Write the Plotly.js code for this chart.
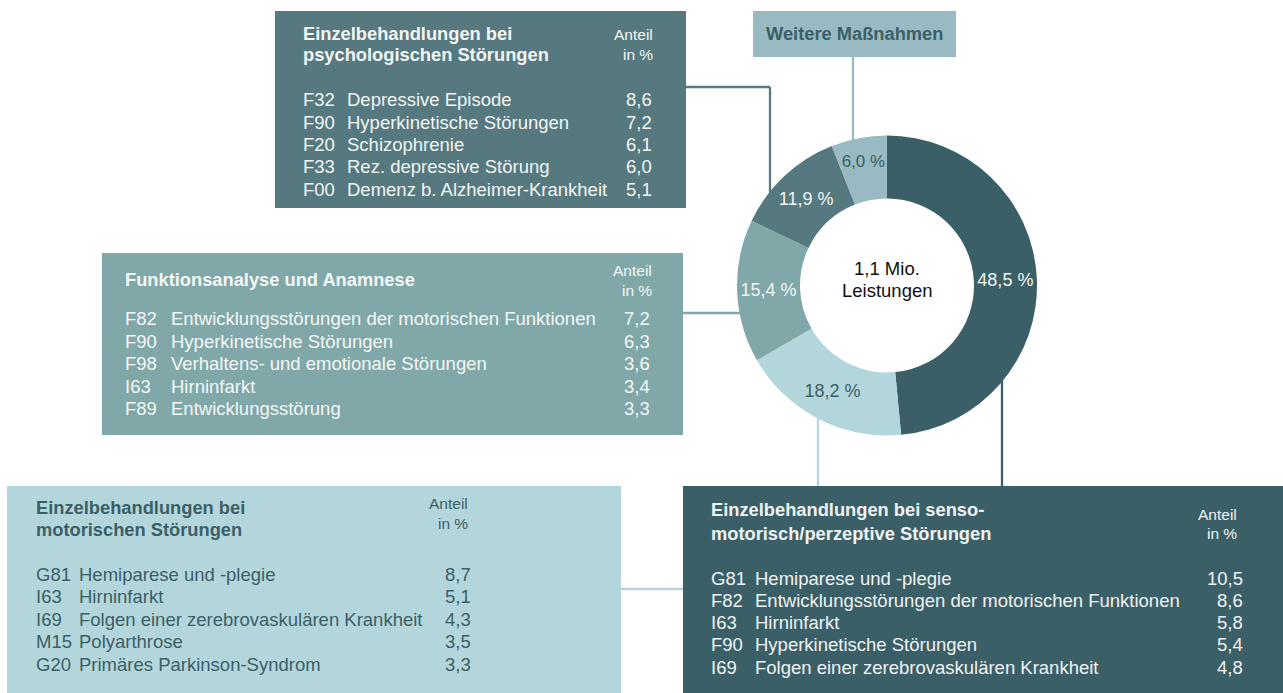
<!DOCTYPE html>
<html>
<head>
<meta charset="utf-8">
<script src="https://cdn.plot.ly/plotly-3.0.1.min.js"></script>
<style>html,body{margin:0;padding:0;background:#fff;}#chart{width:1283px;height:693px;}</style>
</head>
<body>
<div id="chart"></div>
<script>
// ---------- data ----------
const sliceLabels = [
  'Einzelbehandlungen bei senso-motorisch/perzeptive Störungen',
  'Einzelbehandlungen bei motorischen Störungen',
  'Funktionsanalyse und Anamnese',
  'Einzelbehandlungen bei psychologischen Störungen',
  'Weitere Maßnahmen'
];
const sliceValues = [48.5, 18.2, 15.4, 11.9, 6.0];
const centerText = ['1,1 Mio.', 'Leistungen'];

const psychTitle = ['Einzelbehandlungen bei', 'psychologischen Störungen'];
const psychCodes = ['F32', 'F90', 'F20', 'F33', 'F00'];
const psychDiagnoses = ['Depressive Episode', 'Hyperkinetische Störungen', 'Schizophrenie', 'Rez. depressive Störung', 'Demenz b. Alzheimer-Krankheit'];
const psychShares = [8.6, 7.2, 6.1, 6.0, 5.1];

const funkTitle = ['Funktionsanalyse und Anamnese'];
const funkCodes = ['F82', 'F90', 'F98', 'I63', 'F89'];
const funkDiagnoses = ['Entwicklungsstörungen der motorischen Funktionen', 'Hyperkinetische Störungen', 'Verhaltens- und emotionale Störungen', 'Hirninfarkt', 'Entwicklungsstörung'];
const funkShares = [7.2, 6.3, 3.6, 3.4, 3.3];

const motorTitle = ['Einzelbehandlungen bei', 'motorischen Störungen'];
const motorCodes = ['G81', 'I63', 'I69', 'M15', 'G20'];
const motorDiagnoses = ['Hemiparese und -plegie', 'Hirninfarkt', 'Folgen einer zerebrovaskulären Krankheit', 'Polyarthrose', 'Primäres Parkinson-Syndrom'];
const motorShares = [8.7, 5.1, 4.3, 3.5, 3.3];

const sensoTitle = ['Einzelbehandlungen bei senso-', 'motorisch/perzeptive Störungen'];
const sensoCodes = ['G81', 'F82', 'I63', 'F90', 'I69'];
const sensoDiagnoses = ['Hemiparese und -plegie', 'Entwicklungsstörungen der motorischen Funktionen', 'Hirninfarkt', 'Hyperkinetische Störungen', 'Folgen einer zerebrovaskulären Krankheit'];
const sensoShares = [10.5, 8.6, 5.8, 5.4, 4.8];

const weitereTitle = 'Weitere Maßnahmen';
const shareHeader = ['Anteil', 'in %'];

// ---------- styling / layout ----------
const W = 1283, H = 693;
const FONT = 'Liberation Sans, Arial, Helvetica, sans-serif';
const px = x => x / W;
const py = y => 1 - y / H;
const fmt = v => v.toFixed(1).replace('.', ',');

const C_DARK = '#3b5f66', C_MID = '#56797f', C_FUNK = '#80a8a9', C_LIGHT = '#b3d6dc', C_WEIT = '#99bac3';
const sliceColors = [C_DARK, C_LIGHT, C_FUNK, C_MID, C_WEIT];
const sliceTextColors = ['#f2f5f5', '#3b5f66', '#f2f5f5', '#f2f5f5', '#3b5f66'];

const shapes = [];
const annotations = [];

function line(x0, y0, x1, y1, color) {
  shapes.push({type: 'line', xref: 'paper', yref: 'paper', layer: 'below',
    x0: px(x0), y0: py(y0), x1: px(x1), y1: py(y1), line: {color: color, width: 2.3}});
}
function rect(x0, y0, x1, y1, color) {
  shapes.push({type: 'rect', xref: 'paper', yref: 'paper', layer: 'below',
    x0: px(x0), y0: py(y0), x1: px(x1), y1: py(y1), fillcolor: color, line: {width: 0}});
}
function text(t, x, y, anchor, size, color, bold) {
  annotations.push({xref: 'paper', yref: 'paper', x: px(x), y: py(y), xanchor: anchor, yanchor: 'middle',
    text: bold ? '<b>' + t + '</b>' : t, showarrow: false, align: anchor === 'right' ? 'right' : 'left',
    font: {family: FONT, size: size, color: color}, borderpad: 0});
}
function box(cfg, title, codes, diags, shares) {
  rect(cfg.rect[0], cfg.rect[1], cfg.rect[2], cfg.rect[3], cfg.fill);
  title.forEach((t, i) => text(t, cfg.titleX, cfg.titleY[i], 'left', 18.3, cfg.color, true));
  shareHeader.forEach((t, i) => text(t, cfg.headX, cfg.headY[i], 'right', 15.5, cfg.color, false));
  codes.forEach((c, i) => {
    const y = cfg.rowY + i * cfg.rowStep;
    text(c, cfg.codeX, y, 'left', cfg.size, cfg.color, false);
    text(diags[i], cfg.descX, y, 'left', cfg.size, cfg.color, false);
    text(fmt(shares[i]), cfg.valX, y, 'right', cfg.size, cfg.color, false);
  });
}

// connector lines (drawn first, below boxes and donut)
line(686, 87, 770, 87, C_MID);
line(770, 87, 770, 200, C_MID);
line(853, 57, 853, 145, C_WEIT);
line(683, 313, 745, 313, C_FUNK);
line(818, 410, 818, 589, C_LIGHT);
line(818, 589, 621, 589, C_LIGHT);
line(1002, 375, 1002, 487, C_DARK);

// boxes
box({rect: [275, 11, 686, 208], fill: C_MID, color: '#f3f5f5', titleX: 302, titleY: [33, 55],
     headX: 654, headY: [35, 54], codeX: 302, descX: 346, valX: 653, rowY: 100, rowStep: 22.3, size: 18.5},
    psychTitle, psychCodes, psychDiagnoses, psychShares);
box({rect: [102, 253, 683, 435], fill: C_FUNK, color: '#f4f7f7', titleX: 124, titleY: [280],
     headX: 653, headY: [270, 290], codeX: 124, descX: 170, valX: 651, rowY: 319, rowStep: 22.4, size: 18.5},
    funkTitle, funkCodes, funkDiagnoses, funkShares);
box({rect: [7, 486, 621, 693], fill: C_LIGHT, color: '#3b5f66', titleX: 35, titleY: [507, 529],
     headX: 469, headY: [503, 523], codeX: 35, descX: 78, valX: 472, rowY: 574, rowStep: 22.6, size: 18.5},
    motorTitle, motorCodes, motorDiagnoses, motorShares);
box({rect: [683, 486, 1283, 693], fill: C_DARK, color: '#f0f3f4', titleX: 710, titleY: [510, 533],
     headX: 1238, headY: [514, 533], codeX: 710, descX: 754, valX: 1244, rowY: 578, rowStep: 22.3, size: 18.5},
    sensoTitle, sensoCodes, sensoDiagnoses, sensoShares);

rect(753, 11, 956, 57, C_WEIT);
text(weitereTitle, 854, 33, 'center', 18.3, C_DARK, true);

// centre text
text(centerText[0], 887, 268, 'center', 18.5, '#111', false);
text(centerText[1], 887, 290, 'center', 18.5, '#111', false);

const trace = {
  type: 'pie',
  labels: sliceLabels,
  values: sliceValues,
  sort: false,
  direction: 'clockwise',
  rotation: 0,
  hole: 0.58,
  marker: {colors: sliceColors, line: {width: 0}},
  texttemplate: '%{value:.1f} %',
  textposition: 'inside',
  insidetextorientation: 'horizontal',
  textfont: {family: FONT, size: 18, color: sliceTextColors},
  hoverinfo: 'none',
  domain: {x: [px(737), px(1037)], y: [py(435.5), py(135.5)]}
};

const layout = {
  width: W, height: H,
  margin: {l: 0, r: 0, t: 0, b: 0},
  paper_bgcolor: '#ffffff',
  plot_bgcolor: '#ffffff',
  showlegend: false,
  separators: ', ',
  shapes: shapes,
  annotations: annotations
};

Plotly.newPlot('chart', [trace], layout, {displayModeBar: false, staticPlot: true});
</script>
</body>
</html>
